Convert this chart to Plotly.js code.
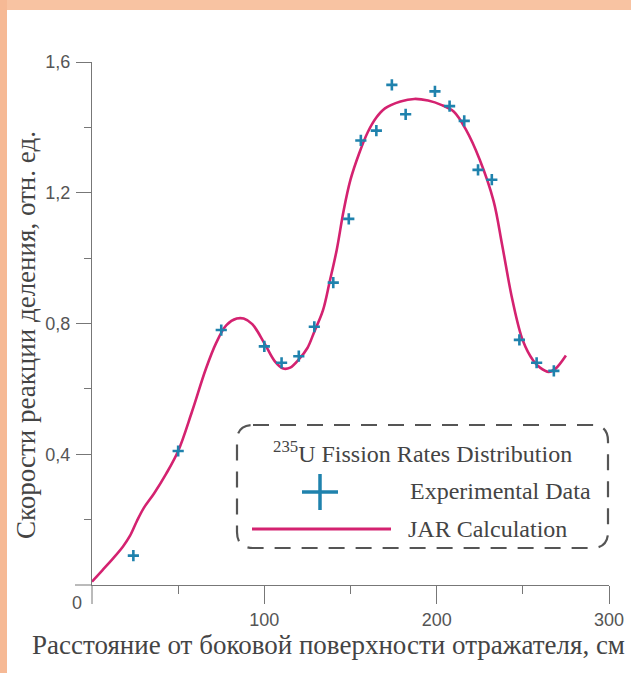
<!DOCTYPE html>
<html>
<head>
<meta charset="utf-8">
<script src="https://cdn.plot.ly/plotly-3.0.1.min.js"></script>
<style>
  html, body { margin: 0; padding: 0; background: #ffffff; }
  #chart { width: 631px; height: 673px; }
</style>
</head>
<body>
<div id="chart"></div>
<script>
// ---- data ----
const expX = [24, 50, 75, 100, 110, 120, 129, 140, 149, 156, 165, 174, 182, 199, 207.5, 216, 224, 232, 248, 258, 268];
const expY = [0.09, 0.41, 0.78, 0.73, 0.68, 0.70, 0.79, 0.925, 1.12, 1.36, 1.39, 1.53, 1.44, 1.51, 1.465, 1.42, 1.27, 1.24, 0.75, 0.68, 0.655];

const calcX = [0, 6, 12, 18, 22, 26, 30, 36, 43, 50, 58, 66, 72, 78, 84, 88, 93, 100, 106, 111, 115, 120, 125, 129, 134, 138, 142, 146, 150, 155, 160, 165, 170, 179, 187, 195, 203, 210, 217, 225, 233, 238, 244, 250, 256, 260, 265, 269, 275];
const calcY = [0.01, 0.045, 0.08, 0.118, 0.15, 0.195, 0.235, 0.28, 0.34, 0.41, 0.53, 0.66, 0.74, 0.795, 0.815, 0.815, 0.798, 0.74, 0.685, 0.662, 0.665, 0.69, 0.725, 0.775, 0.84, 0.93, 1.025, 1.145, 1.24, 1.32, 1.385, 1.43, 1.458, 1.479, 1.487, 1.482, 1.468, 1.448, 1.393, 1.301, 1.175, 1.04, 0.871, 0.748, 0.687, 0.665, 0.652, 0.662, 0.702];

const yTickVals = [0.4, 0.8, 1.2, 1.6];
const yTickText = ['0,4', '0,8', '1,2', '1,6'];
const xTickVals = [100, 200, 300];
const xTickText = ['100', '200', '300'];

const xTitle = 'Расстояние от боковой поверхности отражателя, см';
const yTitle = 'Скорости реакции деления, отн. ед.';
const legendTitle = '<sup>235</sup>U Fission Rates Distribution';
const expName = 'Experimental Data';
const calcName = 'JAR Calculation';

// ---- layout helpers (pixel -> paper) ----
const W = 631, H = 673;
const PL = 92, PR = 609, PT = 62, PB = 585;
const px = v => (v - PL) / (PR - PL);
const py = v => (PB - v) / (PB - PT);

const expColor = '#1f82ad';
const calcColor = '#d42270';
const textColor = '#444444';
const tickColor = '#555555';
const axisColor = '#777777';
const serif = 'Liberation Serif, Times New Roman, serif';
const sans = 'Liberation Sans, Arial, sans-serif';

function roundedRectPath(x0, y0, x1, y1, r) {
  return 'M ' + px(x0 + r) + ',' + py(y0) +
    ' L ' + px(x1 - r) + ',' + py(y0) +
    ' Q ' + px(x1) + ',' + py(y0) + ' ' + px(x1) + ',' + py(y0 + r) +
    ' L ' + px(x1) + ',' + py(y1 - r) +
    ' Q ' + px(x1) + ',' + py(y1) + ' ' + px(x1 - r) + ',' + py(y1) +
    ' L ' + px(x0 + r) + ',' + py(y1) +
    ' Q ' + px(x0) + ',' + py(y1) + ' ' + px(x0) + ',' + py(y1 - r) +
    ' L ' + px(x0) + ',' + py(y0 + r) +
    ' Q ' + px(x0) + ',' + py(y0) + ' ' + px(x0 + r) + ',' + py(y0) + ' Z';
}

const traces = [
  {
    x: calcX, y: calcY, type: 'scatter', mode: 'lines', name: calcName,
    line: { color: calcColor, width: 2.6, shape: 'spline', smoothing: 1 },
    hoverinfo: 'x+y'
  },
  {
    x: expX, y: expY, type: 'scatter', mode: 'markers', name: expName,
    marker: { symbol: 'cross-thin', size: 8, color: expColor, line: { color: expColor, width: 2.6 } },
    cliponaxis: false
  }
];

const shapes = [
  // orange scan border
  { type: 'rect', xref: 'paper', yref: 'paper', x0: px(0), x1: px(W), y0: py(0), y1: py(10), line: { width: 0 }, fillcolor: '#f8c3a2', layer: 'below' },
  { type: 'rect', xref: 'paper', yref: 'paper', x0: px(0), x1: px(7), y0: py(0), y1: py(H), line: { width: 0 }, fillcolor: '#f6b995', layer: 'below' },
  // axis extensions past origin
  { type: 'line', xref: 'paper', yref: 'paper', x0: 0, x1: 0, y0: 0, y1: py(604), line: { color: axisColor, width: 1 } },
  { type: 'line', xref: 'paper', yref: 'paper', x0: px(75), x1: 0, y0: 0, y1: 0, line: { color: axisColor, width: 1 } },
  // legend box
  { type: 'path', xref: 'paper', yref: 'paper', path: roundedRectPath(237, 425, 608, 548, 16), line: { color: '#555555', width: 2.2, dash: '16px,11px' }, fillcolor: 'rgba(0,0,0,0)' },
  // legend plus symbol
  { type: 'line', xref: 'paper', yref: 'paper', x0: px(302), x1: px(338), y0: py(492), y1: py(492), line: { color: expColor, width: 3.5 } },
  { type: 'line', xref: 'paper', yref: 'paper', x0: px(320), x1: px(320), y0: py(474), y1: py(510), line: { color: expColor, width: 3.5 } },
  // legend line symbol
  { type: 'line', xref: 'paper', yref: 'paper', x0: px(252), x1: px(391), y0: py(529), y1: py(529), line: { color: calcColor, width: 3 } }
];

const annotations = [
  { text: xTitle, xref: 'paper', yref: 'paper', x: px(328), y: py(645), showarrow: false, xanchor: 'center', yanchor: 'middle', font: { family: serif, size: 27, color: textColor } },
  { text: yTitle, xref: 'paper', yref: 'paper', x: px(26), y: py(335), showarrow: false, textangle: -90, xanchor: 'center', yanchor: 'middle', font: { family: serif, size: 27, color: textColor } },
  { text: '0', xref: 'paper', yref: 'paper', x: px(77), y: py(603), showarrow: false, xanchor: 'center', yanchor: 'middle', font: { family: sans, size: 18, color: tickColor } },
  { text: legendTitle, xref: 'paper', yref: 'paper', x: px(422), y: py(452), showarrow: false, xanchor: 'center', yanchor: 'middle', font: { family: serif, size: 24, color: textColor } },
  { text: expName, xref: 'paper', yref: 'paper', x: px(593), y: py(491), showarrow: false, xanchor: 'right', yanchor: 'middle', font: { family: serif, size: 24, color: textColor } },
  { text: calcName, xref: 'paper', yref: 'paper', x: px(406), y: py(529), showarrow: false, xanchor: 'left', yanchor: 'middle', font: { family: serif, size: 24, color: textColor } }
];

const layout = {
  width: W, height: H,
  margin: { l: PL, r: W - PR, t: PT, b: H - PB, pad: 0 },
  paper_bgcolor: '#ffffff', plot_bgcolor: '#ffffff',
  showlegend: false,
  xaxis: {
    range: [0, 300], showgrid: false, zeroline: false,
    showline: true, linecolor: axisColor, linewidth: 1,
    tickmode: 'array', tickvals: xTickVals, ticktext: xTickText,
    ticks: 'outside', ticklen: 18, tickcolor: axisColor, tickwidth: 1,
    ticklabelstandoff: 0,
    tickfont: { family: sans, size: 18, color: tickColor },
    minor: { tickmode: 'array', tickvals: [50, 150, 250], ticks: 'outside', ticklen: 8, tickcolor: axisColor, tickwidth: 1, showgrid: false }
  },
  yaxis: {
    range: [0, 1.6], showgrid: false, zeroline: false,
    showline: true, linecolor: axisColor, linewidth: 1,
    tickmode: 'array', tickvals: yTickVals, ticktext: yTickText,
    ticks: 'outside', ticklen: 15, tickcolor: axisColor, tickwidth: 1,
    ticklabelstandoff: 2,
    tickfont: { family: sans, size: 18, color: tickColor },
    minor: { tickmode: 'array', tickvals: [0.2, 0.6, 1.0, 1.4], ticks: 'outside', ticklen: 7, tickcolor: axisColor, tickwidth: 1, showgrid: false }
  },
  shapes: shapes,
  annotations: annotations
};

Plotly.newPlot('chart', traces, layout, { staticPlot: true, displayModeBar: false });
</script>
</body>
</html>
